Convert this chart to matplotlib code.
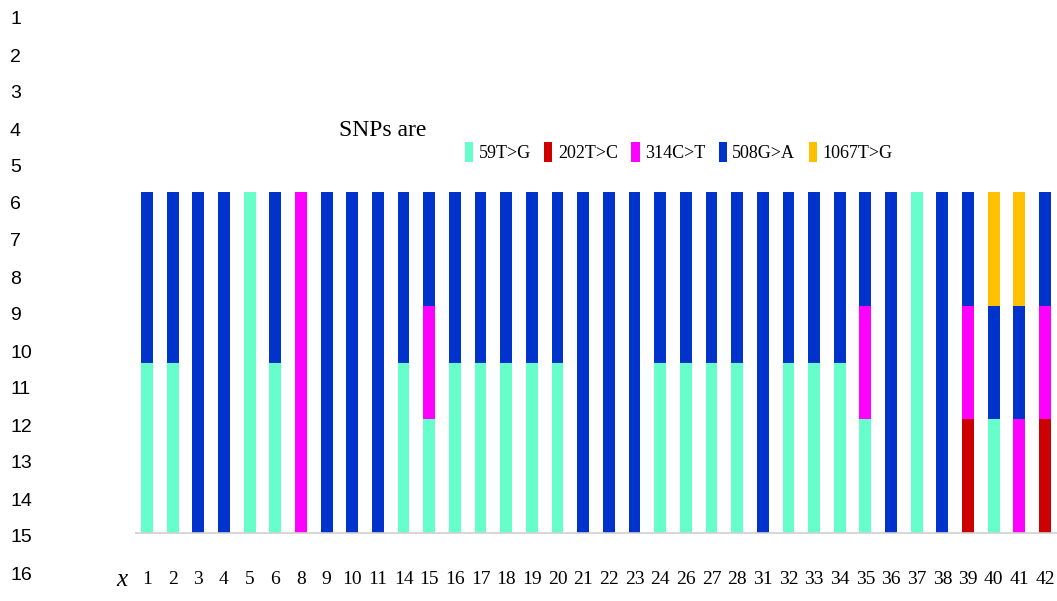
import matplotlib.pyplot as plt
import numpy as np

# categorias (muestras) y cuentas de cada SNP por muestra
muestras = ['1', '2', '3', '4', '5', '6', '8', '9', '10', '11', '14', '15', '16', '17',
            '18', '19', '20', '21', '22', '23', '24', '26', '27', '28', '31', '32', '33',
            '34', '35', '36', '37', '38', '39', '40', '41', '42']
snp_59 = [1, 1, 0, 0, 1, 1, 0, 0, 0, 0, 1, 1, 1, 1, 1, 1, 1, 0, 0, 0, 1, 1, 1, 1, 0, 1,
          1, 1, 1, 0, 1, 0, 0, 1, 0, 0]
snp_202 = [0, 0, 0, 0, 0, 0, 0, 0, 0, 0, 0, 0, 0, 0, 0, 0, 0, 0, 0, 0, 0, 0, 0, 0, 0, 0,
           0, 0, 0, 0, 0, 0, 1, 0, 0, 1]
snp_314 = [0, 0, 0, 0, 0, 0, 1, 0, 0, 0, 0, 1, 0, 0, 0, 0, 0, 0, 0, 0, 0, 0, 0, 0, 0, 0,
           0, 0, 1, 0, 0, 0, 1, 0, 1, 1]
snp_508 = [1, 1, 1, 1, 0, 1, 0, 1, 1, 1, 1, 1, 1, 1, 1, 1, 1, 1, 1, 1, 1, 1, 1, 1, 1, 1,
           1, 1, 1, 1, 0, 1, 1, 1, 1, 1]
snp_1067 = [0, 0, 0, 0, 0, 0, 0, 0, 0, 0, 0, 0, 0, 0, 0, 0, 0, 0, 0, 0, 0, 0, 0, 0, 0, 0,
            0, 0, 0, 0, 0, 0, 0, 1, 1, 0]
nombres = ['59T>G', '202T>C', '314C>T', '508G>A', '1067T>G']
colores = ['#66FFCC', '#CC0000', '#FF00FF', '#0033CC', '#FFC000']

series = np.array([snp_59, snp_202, snp_314, snp_508, snp_1067], dtype=float)
porcentajes = series / series.sum(axis=0)

fig = plt.figure(figsize=(10.57, 6.01), dpi=100)
W, H = 1057, 601
# eje ocupando todo el ancho, la altura de las barras va de y=192 a y=533
ax = fig.add_axes([0, (H - 533) / H, 1, (533 - 192) / H])

x = np.arange(len(muestras))
abajo = np.zeros(len(muestras))
handles = []
for vals, nombre, color in zip(porcentajes, nombres, colores):
    b = ax.bar(x, vals, bottom=abajo, width=0.46, color=color, label=nombre)
    handles.append(b)
    abajo += vals

# posicion de las barras en pixeles: la 1ra en 147 y la ultima en 1045
paso = (1045 - 147) / (len(muestras) - 1)
ax.set_xlim(-147 / paso, (W - 147) / paso)
ax.set_ylim(0, 1)
for s in ax.spines.values():
    s.set_visible(False)
ax.set_yticks([])
ax.hlines(0, -0.45, len(muestras) - 0.5, color='#d0d0d0', lw=1.2, clip_on=False)
ax.set_xticks(x, muestras, family='Liberation Serif', fontsize=14)
ax.tick_params(axis='x', length=0, pad=27)

# numeros de fila a la izquierda
for i in range(16):
    y = 20 + i * 37
    fig.text(10 / W, 1 - y / H, str(i + 1), family='Liberation Sans',
             fontsize=14, ha='left', va='center')

fig.text(116 / W, 1 - 580 / H, 'x', family='Liberation Serif', style='italic',
         fontsize=18, ha='left', va='center')
fig.text(339 / W, 1 - 130 / H, 'SNPs are', family='Liberation Serif',
         fontsize=17, ha='left', va='center')

fig.legend(handles=handles, labels=nombres, loc='center left',
           bbox_to_anchor=(465 / W, 1 - 152 / H), ncol=5, frameon=False,
           prop={'family': 'Liberation Serif', 'size': 13},
           handlelength=0.45, handleheight=1.3, handletextpad=0.3,
           columnspacing=0.75, borderpad=0, borderaxespad=0)

fig.savefig('out.png', dpi=100)
